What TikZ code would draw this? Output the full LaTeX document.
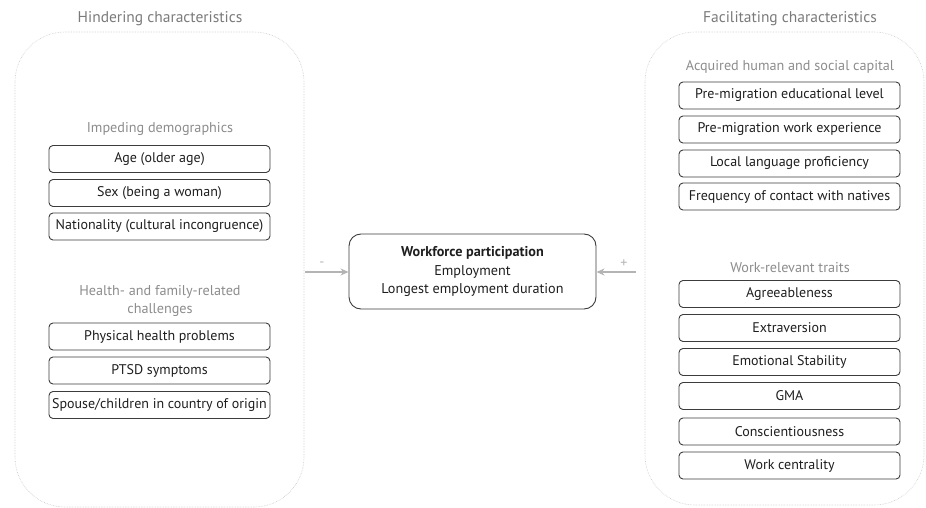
\documentclass[tikz,border=0pt]{standalone}
\usepackage{fontspec}
\setmainfont{PT Sans}
\usetikzlibrary{arrows.meta}
\definecolor{ttl}{HTML}{7A7A7A}
\definecolor{sub}{HTML}{8C8C8C}
\definecolor{bord}{HTML}{3C3C3C}
\definecolor{txt}{HTML}{1E1E1E}
\definecolor{arr}{HTML}{B4B4B4}
\definecolor{cont}{HTML}{C8C8C8}
\tikzset{
  item/.style={draw=bord, line width=0.9pt, rounded corners=4pt, minimum width=221pt, minimum height=27pt, inner sep=0pt, text=txt, font=\fontsize{14}{16}\selectfont},
  container/.style={draw=cont, densely dotted, line width=0.6pt, rounded corners=50pt},
  title/.style={text=ttl, font=\fontsize{15.5}{17}\selectfont, inner sep=0pt},
  subhead/.style={text=sub, font=\fontsize{14.2}{18}\selectfont, inner sep=0pt, align=center},
  conn/.style={draw=arr, line width=1.6pt, -{Stealth[length=8pt,width=7pt]}},
  sign/.style={text=arr, font=\fontsize{14}{14}\selectfont, inner sep=0pt}
}
\begin{document}
\begin{tikzpicture}[x=1pt,y=-1pt]
\useasboundingbox (0,0) rectangle (926,508);
% containers
\draw[container] (15,32) rectangle (304,507);
\draw[container] (645,32) rectangle (924,505);
\node[title] (tl) at (160,19) {Hindering characteristics};
\node[title] (tr) at (790,19) {Facilitating characteristics};
% left
\node[subhead] (s1) at (160,129) {Impeding demographics};
\node[item] (l1) at (159.5,159) {Age (older age)};
\node[item] (l2) at (159.5,193) {Sex (being a woman)};
\node[item] (l3) at (159.5,226.5) {Nationality (cultural incongruence)};
\node[subhead] (s2) at (160,301) {Health- and family-related\\challenges};
\node[item] (l4) at (159.5,336.5) {Physical health problems};
\node[item] (l5) at (159.5,370.5) {PTSD symptoms};
\node[item] (l6) at (159.5,405) {Spouse/children in country of origin};
% right
\node[subhead] (s3) at (790,67) {Acquired human and social capital};
\node[item] (r1) at (789.5,95.5) {Pre-migration educational level};
\node[item] (r2) at (789.5,129.5) {Pre-migration work experience};
\node[item] (r3) at (789.5,163.5) {Local language proficiency};
\node[item] (r4) at (789.5,196.5) {Frequency of contact with natives};
\node[subhead] (s4) at (790,268) {Work-relevant traits};
\node[item] (r5) at (789.5,294) {Agreeableness};
\node[item] (r6) at (789.5,328) {Extraversion};
\node[item] (r7) at (789.5,362) {Emotional Stability};
\node[item] (r8) at (789.5,396) {GMA};
\node[item] (r9) at (789.5,431.5) {Conscientiousness};
\node[item] (r10) at (789.5,465.5) {Work centrality};
% center
\node[draw=bord, line width=0.9pt, rounded corners=12pt, minimum width=247pt, minimum height=75pt, align=center, text=txt, font=\fontsize{14.2}{18.5}\selectfont] (c) at (472.5,271.5) {\textbf{Workforce participation}\\Employment\\Longest employment duration};
% connectors
\coordinate (la) at (305,272);
\coordinate (ra) at (636,272);
\draw[conn] (la) -- (c.west |- la);
\draw[conn] (ra) -- (c.east |- ra);
\node[sign] (m) at (322,264) {-};
\node[sign] (p) at (624,264) {+};
\end{tikzpicture}
\end{document}
